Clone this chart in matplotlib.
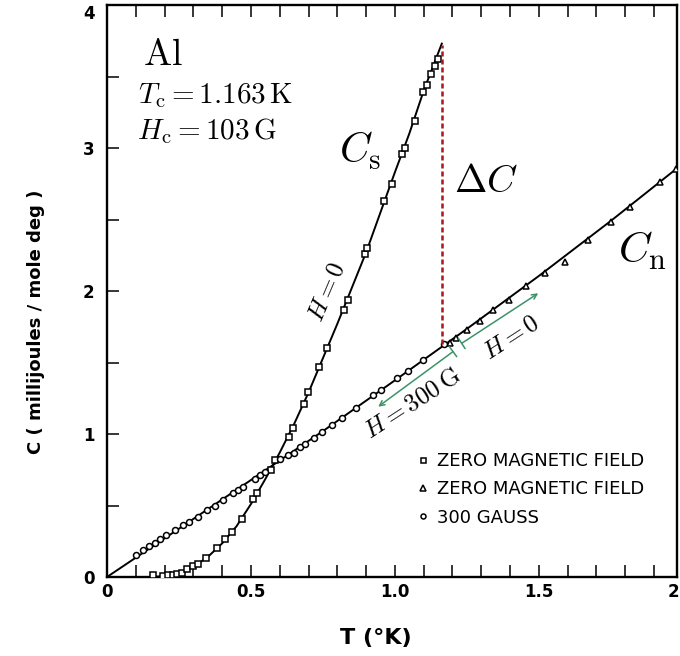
import matplotlib
matplotlib.use("Agg")
import matplotlib.pyplot as plt
from matplotlib.lines import Line2D
from matplotlib.patches import ArrowStyle
import numpy as np

plt.rcParams['mathtext.fontset'] = 'cm'
plt.rcParams['font.family'] = ['DejaVu Sans']

# ---- data ----
# zero field, superconducting state (squares)
cs_T = [0.161, 0.196, 0.213, 0.228, 0.244, 0.259, 0.279, 0.297, 0.317, 0.344,
        0.381, 0.410, 0.433, 0.468, 0.506, 0.520, 0.568, 0.585, 0.633, 0.646,
        0.683, 0.699, 0.737, 0.764, 0.823, 0.836, 0.897, 0.902, 0.962, 0.989,
        1.026, 1.036, 1.069, 1.098, 1.110, 1.127, 1.139, 1.150]
cs_C = [0.014, 0.005, 0.012, 0.012, 0.019, 0.026, 0.054, 0.077, 0.091, 0.130,
        0.200, 0.264, 0.317, 0.403, 0.545, 0.585, 0.750, 0.820, 0.979, 1.044,
        1.210, 1.293, 1.466, 1.600, 1.870, 1.940, 2.259, 2.300, 2.630, 2.748,
        2.958, 2.998, 3.191, 3.390, 3.440, 3.520, 3.570, 3.620]

# zero field, normal state (triangles)
cn0_T = [1.191, 1.212, 1.249, 1.295, 1.342, 1.398, 1.456, 1.521, 1.590, 1.671,
         1.752, 1.816, 1.922, 1.976]
cn0_C = [1.639, 1.669, 1.727, 1.790, 1.867, 1.937, 2.037, 2.124, 2.200, 2.360,
         2.485, 2.590, 2.760, 2.850]

# 300 gauss, normal state (circles)
cn300_T = [0.100, 0.126, 0.147, 0.167, 0.184, 0.204, 0.236, 0.263, 0.284, 0.317,
           0.346, 0.375, 0.404, 0.439, 0.456, 0.471, 0.514, 0.531, 0.549, 0.600,
           0.628, 0.651, 0.670, 0.688, 0.718, 0.747, 0.783, 0.818, 0.864, 0.925,
           0.951, 1.006, 1.046, 1.098, 1.170]
cn300_C = [0.154, 0.186, 0.214, 0.238, 0.263, 0.294, 0.331, 0.364, 0.385, 0.417,
           0.469, 0.498, 0.535, 0.590, 0.606, 0.626, 0.685, 0.713, 0.736, 0.826,
           0.850, 0.870, 0.907, 0.930, 0.975, 1.012, 1.065, 1.115, 1.180, 1.273,
           1.310, 1.390, 1.443, 1.517, 1.630]

# drawn curves
cs_curve_T = [0.15, 0.20, 0.25, 0.30, 0.35, 0.40, 0.45, 0.50, 0.55, 0.60, 0.65,
              0.70, 0.75, 0.80, 0.85, 0.90, 0.95, 1.00, 1.05, 1.10, 1.163]
cs_curve_C = [0.0, 0.006, 0.025, 0.07, 0.14, 0.235, 0.355, 0.51, 0.685, 0.87, 1.07,
              1.29, 1.53, 1.77, 2.02, 2.27, 2.55, 2.83, 3.10, 3.40, 3.73]
cn_curve_T = [0.0, 0.25, 0.50, 0.75, 1.00, 1.25, 1.50, 1.75, 2.00]
cn_curve_C = [0.0, 0.338, 0.678, 1.02, 1.375, 1.735, 2.105, 2.49, 2.89]

# jump at Tc
jump_T = 1.165
jump_C = [1.63, 3.72]

# arrows (start, end) in data units
arrow300 = [(1.202, 1.576), (0.942, 1.191)]
arrow0 = [(1.232, 1.634), (1.498, 1.984)]

x_major = [0, 0.5, 1.0, 1.5]
x_major_labels = ['0', '0.5', '1.0', '1.5']
y_major = [0, 1, 2, 3, 4]
y_major_labels = ['0', '1', '2', '3', '4']

legend_labels = ['ZERO MAGNETIC FIELD', 'ZERO MAGNETIC FIELD', '300 GAUSS']

# ---- figure ----
W, H = 680, 656
fig = plt.figure(figsize=(W / 100, H / 100), dpi=100)
ax = fig.add_axes([107 / W, 1 - 577 / H, 570 / W, 572 / H])

lw = 1.4
ax.plot(cs_curve_T, cs_curve_C, color='black', lw=lw, zorder=2)
ax.plot(cn_curve_T, cn_curve_C, color='black', lw=lw, zorder=2)

mk = dict(ls='none', mfc='white', mec='black', mew=1.1, zorder=3)
ax.plot(cs_T, cs_C, marker='s', ms=4.3, **mk)
ax.plot(cn0_T, cn0_C, marker='^', ms=4.8, **mk)
ax.plot(cn300_T, cn300_C, marker='o', ms=4.3, **mk)

ax.plot([jump_T, jump_T], jump_C, color='#a81818', lw=1.8, ls=(0, (2.0, 1.2)), zorder=4)

green = '#3a9468'
for (a, b) in (arrow300, arrow0):
    ax.annotate('', xy=b, xytext=a,
                arrowprops=dict(arrowstyle=ArrowStyle(']->', widthA=0.5, lengthA=0.0),
                                mutation_scale=9, color=green, lw=1.1,
                                shrinkA=0, shrinkB=0))

ax.set_xlim(0, 1.98)
ax.set_ylim(0, 4.0)

tick_font = dict(family='DejaVu Sans', weight='bold', size=12)
ax.set_xticks(x_major)
ax.set_xticklabels(x_major_labels, **tick_font)
ax.set_yticks(y_major)
ax.set_yticklabels(y_major_labels, **tick_font)
ax.set_xticks(np.arange(0.1, 1.98, 0.1), minor=True)
ax.set_yticks([0.5, 1.5, 2.5, 3.5], minor=True)
ax.tick_params(axis='both', which='both', direction='in', length=8.6, width=1.1,
               top=True, right=False, color='black')
ax.tick_params(axis='x', which='major', pad=4)
ax.tick_params(axis='y', which='major', pad=9)
for s in ax.spines.values():
    s.set_linewidth(1.7)
# top label "4" sits just below the frame corner
ax.yaxis.get_major_ticks()[-1].label1.set_verticalalignment('top')

# cut-off 2.0 label at the right edge
ax.annotate('2.0', xy=(2.0, 0), xycoords=('data', 'axes fraction'),
            xytext=(0, -4), textcoords='offset points', ha='center', va='top',
            annotation_clip=False, **tick_font)

ax.set_xlabel('T (°K)', fontsize=16, fontweight='bold')
ax.xaxis.set_label_coords(0.472, -0.090)
ax.set_ylabel('C ( millijoules / mole deg )', fontsize=13, fontweight='bold')
ax.yaxis.set_label_coords(-0.108, 0.446)

# annotations
ax.text(0.125, 3.58, r'$\mathrm{Al}$', fontsize=27, ha='left', va='baseline')
ax.text(0.108, 3.315, r'$T_{\mathrm{c}} = 1.163\,\mathrm{K}$', fontsize=21, ha='left', va='baseline')
ax.text(0.104, 3.065, r'$H_{\mathrm{c}} = 103\,\mathrm{G}$', fontsize=21, ha='left', va='baseline')
ax.text(0.805, 2.895, r'$C_{\mathrm{s}}$', fontsize=30, ha='left', va='baseline')
ax.text(1.205, 2.69, r'$\Delta C$', fontsize=28, ha='left', va='baseline')
ax.text(1.775, 2.196, r'$C_{\mathrm{n}}$', fontsize=31, ha='left', va='baseline')
ax.text(0.764, 1.993, r'$H = 0$', fontsize=18, rotation=67, rotation_mode='anchor',
        ha='center', va='center')
ax.text(1.059, 1.217, r'$H = 300\,\mathrm{G}$', fontsize=18, rotation=33,
        rotation_mode='anchor', ha='center', va='center')
ax.text(1.403, 1.678, r'$H = 0$', fontsize=18, rotation=33, rotation_mode='anchor',
        ha='center', va='center')

handles = [Line2D([], [], marker='s', ms=3.6, **mk),
           Line2D([], [], marker='^', ms=4.0, **mk),
           Line2D([], [], marker='o', ms=3.6, **mk)]
ax.legend(handles, legend_labels, loc='upper left', bbox_to_anchor=(0.547, 0.218),
          frameon=False, fontsize=13, handlelength=0.5, handletextpad=0.5,
          labelspacing=0.56, borderpad=0, borderaxespad=0)

fig.savefig('out.png', dpi=100, facecolor='white')
